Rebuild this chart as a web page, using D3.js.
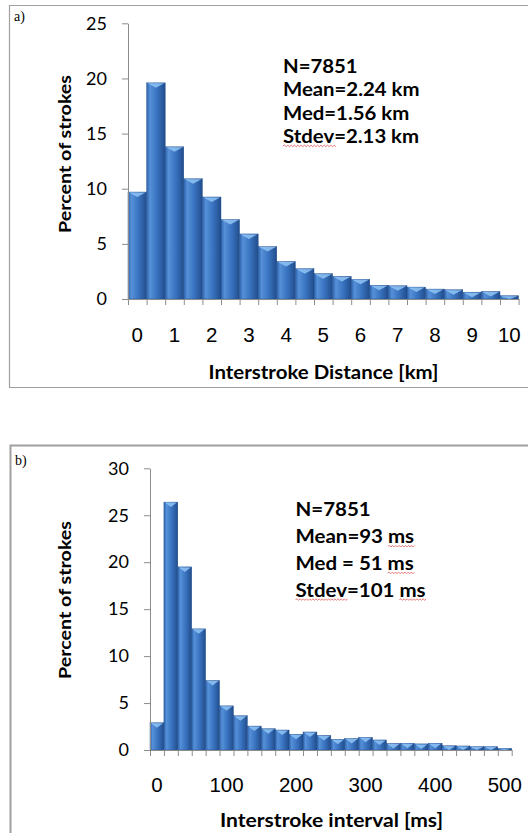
<!DOCTYPE html>
<html>
<head>
<meta charset="utf-8">
<script src="https://cdn.jsdelivr.net/npm/d3@7"></script>
<style>
  body { margin: 0; background: #fff; }
  svg { display: block; }
</style>
</head>
<body>
<svg width="528" height="833"></svg>
<script>
// panel a) interstroke distance, 0.5 km bins
const distBins = [0, 0.5, 1, 1.5, 2, 2.5, 3, 3.5, 4, 4.5, 5, 5.5, 6, 6.5, 7, 7.5, 8, 8.5, 9, 9.5, 10];
const distPercent = [9.7, 19.6, 13.8, 10.9, 9.25, 7.2, 5.9, 4.75, 3.4, 2.75, 2.3, 2.05, 1.78, 1.25, 1.2, 1.08, 0.9, 0.84, 0.62, 0.68, 0.3];
const distTicks = [0, 1, 2, 3, 4, 5, 6, 7, 8, 9, 10];
const distYTicks = [0, 5, 10, 15, 20, 25];
const distStats = ["N=7851", "Mean=2.24 km", "Med=1.56 km", "Stdev=2.13 km"];

// panel b) interstroke interval, 20 ms bins
const intBins = [0, 20, 40, 60, 80, 100, 120, 140, 160, 180, 200, 220, 240, 260, 280, 300, 320, 340, 360, 380, 400, 420, 440, 460, 480, 500];
const intPercent = [2.9, 26.4, 19.5, 12.9, 7.4, 4.7, 3.65, 2.55, 2.27, 2.13, 1.68, 1.92, 1.55, 1.14, 1.22, 1.35, 1.07, 0.7, 0.72, 0.65, 0.72, 0.46, 0.43, 0.36, 0.36, 0.18];
const intTicks = [0, 100, 200, 300, 400, 500];
const intYTicks = [0, 5, 10, 15, 20, 25, 30];
const intStats = ["N=7851", "Mean=93 ms", "Med = 51 ms", "Stdev=101 ms"];

const svg = d3.select("svg");

// bar gradient (Excel-like bevel)
const defs = svg.append("defs");
const grad = defs.append("linearGradient").attr("id", "barGrad")
  .attr("x1", 0).attr("x2", 1).attr("y1", 0).attr("y2", 0);
grad.append("stop").attr("offset", "0%").attr("stop-color", "#2c62ab");
grad.append("stop").attr("offset", "18%").attr("stop-color", "#5590d8");
grad.append("stop").attr("offset", "55%").attr("stop-color", "#3a74c1");
grad.append("stop").attr("offset", "100%").attr("stop-color", "#214d8c");

function drawPanel(cfg) {
  const g = svg.append("g");

  // frame
  g.append("path")
    .attr("d", cfg.frame)
    .attr("fill", "none")
    .attr("stroke", "#a0a0a0")
    .attr("stroke-width", cfg.frameWidth);

  g.append("text")
    .attr("x", cfg.tagX).attr("y", cfg.tagY)
    .style("font-family", "'Liberation Serif', serif")
    .style("font-size", "14px")
    .text(cfg.tag);

  const x = d3.scaleBand().domain(cfg.bins).range([cfg.left, cfg.right]).padding(0);
  const xEdge = d3.scaleLinear().domain([0, cfg.bins.length]).range([cfg.left, cfg.right]);
  const y = d3.scaleLinear().domain([0, d3.max(cfg.yTicks)]).range([cfg.bottom, cfg.top]);

  // bars
  const bars = g.selectAll("g.bar")
    .data(cfg.values)
    .join("g")
    .attr("class", "bar");

  bars.append("rect")
    .attr("x", (d, i) => x(cfg.bins[i]))
    .attr("y", d => y(d))
    .attr("width", x.bandwidth())
    .attr("height", d => cfg.bottom - y(d))
    .attr("fill", "url(#barGrad)")
    .attr("stroke", "#1f4c8a")
    .attr("stroke-width", 0.4);

  // light top bevel
  bars.append("path")
    .attr("d", (d, i) => {
      const x0 = x(cfg.bins[i]), w = x.bandwidth(), t = y(d);
      const h = Math.min(5, cfg.bottom - t);
      return `M${x0 + 1},${t + 0.5} L${x0 + w - 1},${t + 0.5} L${x0 + w / 2},${t + h} Z`;
    })
    .attr("fill", "#8cc0f2")
    .attr("opacity", 0.9);

  // y axis
  const yAxis = d3.axisLeft(y).tickValues(cfg.yTicks).tickSizeOuter(0).tickSizeInner(6).tickPadding(15);
  const yG = g.append("g").attr("transform", `translate(${cfg.left},0)`).call(yAxis);
  yG.select(".domain").attr("stroke", "#8c8c8c");
  yG.selectAll(".tick line").attr("stroke", "#8c8c8c");
  yG.selectAll(".tick text")
    .style("font-family", "Lato, 'Open Sans', sans-serif")
    .style("font-size", "18px")
    .attr("fill", "#000");

  // x axis: tick marks on bin edges
  const edgeAxis = d3.axisBottom(xEdge).tickValues(d3.range(cfg.bins.length + 1))
    .tickFormat("").tickSizeOuter(0).tickSizeInner(6);
  const eG = g.append("g").attr("transform", `translate(0,${cfg.bottom})`).call(edgeAxis);
  eG.select(".domain").attr("stroke", "#8c8c8c");
  eG.selectAll(".tick line").attr("stroke", "#8c8c8c");

  // x axis labels at bin centres
  const labAxis = d3.axisBottom(x).tickValues(cfg.xTicks).tickSize(0).tickPadding(cfg.labelPad);
  const lG = g.append("g").attr("transform", `translate(0,${cfg.bottom})`).call(labAxis);
  lG.select(".domain").remove();
  lG.selectAll(".tick text")
    .style("font-family", "'Liberation Sans', Arial, sans-serif")
    .style("font-size", "20.5px")
    .attr("fill", "#000");

  // axis titles
  g.append("text")
    .attr("transform", `translate(${cfg.yTitleX},${cfg.yTitleY}) rotate(-90)`)
    .attr("text-anchor", "middle")
    .attr("textLength", 158)
    .attr("lengthAdjust", "spacingAndGlyphs")
    .style("font-family", "Lato, sans-serif")
    .style("font-weight", "bold")
    .style("font-size", "17.5px")
    .text("Percent of strokes");

  g.append("text")
    .attr("x", cfg.xTitleX).attr("y", cfg.xTitleY)
    .attr("text-anchor", "middle")
    .attr("textLength", cfg.xTitleLen)
    .attr("lengthAdjust", "spacingAndGlyphs")
    .style("font-family", "Lato, sans-serif")
    .style("font-weight", "bold")
    .style("font-size", "18.5px")
    .text(cfg.xTitle);

  // stats block, stretched a little horizontally like the source
  const sG = g.append("g")
    .attr("transform", `translate(${cfg.statX},0) scale(${cfg.statScale},1)`);
  cfg.stats.forEach((s, i) => {
    const t = sG.append("text")
      .attr("x", 0).attr("y", cfg.statY + i * cfg.statDy)
      .style("font-family", "Lato, sans-serif")
      .style("font-weight", "bold")
      .style("font-size", cfg.statSize + "px")
      .text(s);
    // spell-check squiggles under flagged words
    (cfg.squiggle[i] || []).forEach(word => {
      const idx = s.indexOf(word);
      const node = t.node();
      const sx = idx > 0 ? node.getSubStringLength(0, idx) : 0;
      const w = node.getSubStringLength(idx, word.length);
      const by = cfg.statY + i * cfg.statDy + 3;
      let d = `M${sx},${by}`;
      for (let k = 0, up = true; k < w; k += 1.5, up = !up) {
        d += ` L${sx + k + 1.5},${by + (up ? -0.8 : 0.8)}`;
      }
      sG.append("path").attr("d", d).attr("fill", "none")
        .attr("stroke", "#e05a5a").attr("stroke-width", 0.8);
    });
  });
}

drawPanel({
  bins: distBins, values: distPercent, xTicks: distBins.filter(b => distTicks.includes(b)),
  yTicks: distYTicks, stats: distStats,
  left: 128, right: 518.6, top: 23.3, bottom: 299,
  frame: "M540,5.5 L9.5,5.5 L9.5,387.5 L540,387.5", frameWidth: 1.2,
  tag: "a)", tagX: 14, tagY: 21,
  labelPad: 28, yTitleX: 71, yTitleY: 154,
  xTitle: "Interstroke Distance [km]", xTitleX: 323.5, xTitleY: 379, xTitleLen: 230,
  statX: 283, statY: 73, statDy: 23.3, statSize: 18.5, statScale: 1.1,
  squiggle: { 3: ["Stdev"] }
});

drawPanel({
  bins: intBins, values: intPercent, xTicks: intBins.filter(b => intTicks.includes(b)),
  yTicks: intYTicks, stats: intStats,
  left: 150, right: 511.7, top: 468.3, bottom: 750,
  frame: "M540,445.5 L10.5,445.5 L10.5,840", frameWidth: 2,
  tag: "b)", tagX: 15, tagY: 465,
  labelPad: 27.5, yTitleX: 71, yTitleY: 600,
  xTitle: "Interstroke interval [ms]", xTitleX: 331.5, xTitleY: 826.5, xTitleLen: 223,
  statX: 295.5, statY: 516.5, statDy: 26.7, statSize: 19.5, statScale: 1.05,
  squiggle: { 1: ["ms"], 2: ["ms"], 3: ["Stdev", "ms"] }
});
</script>
</body>
</html>
